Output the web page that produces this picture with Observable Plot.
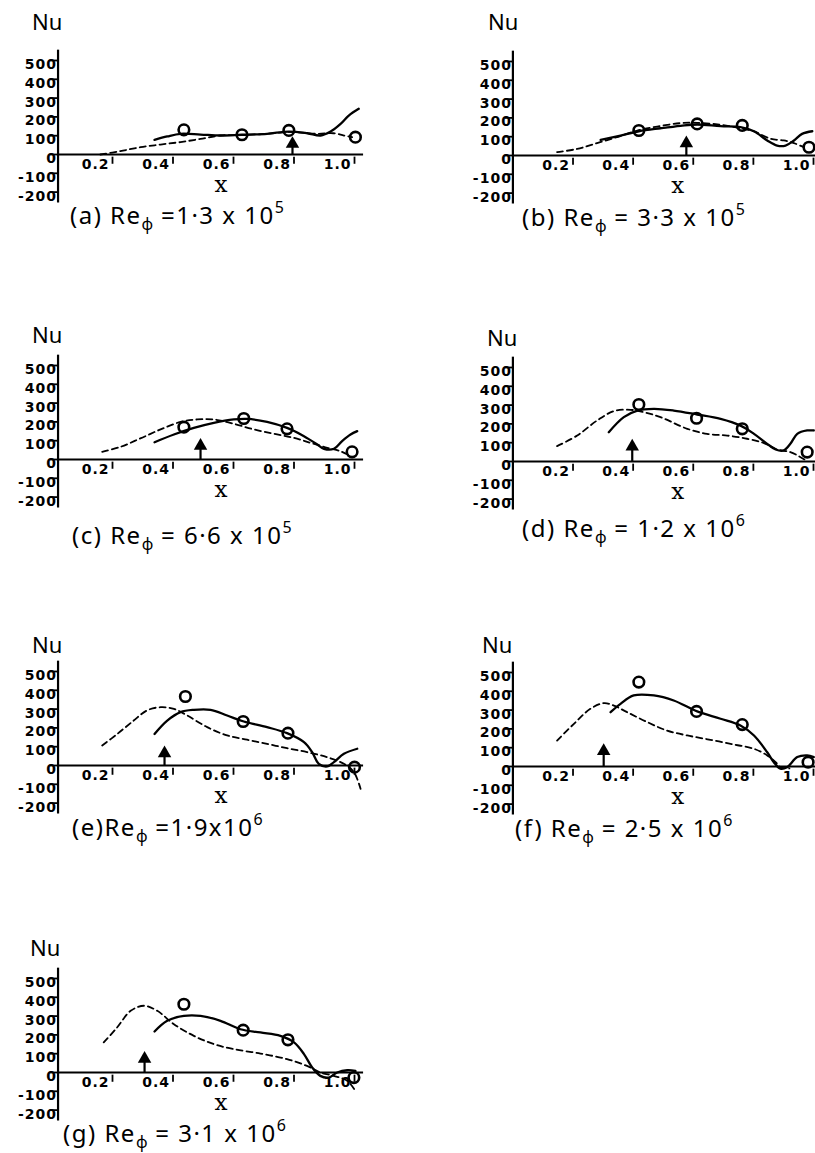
<!DOCTYPE html>
<html><head><meta charset="utf-8">
<script src="https://cdn.jsdelivr.net/npm/d3@7"></script>
<script src="https://cdn.jsdelivr.net/npm/@observablehq/plot@0.6"></script>
<style>
html,body{margin:0;padding:0;background:#fff;width:815px;height:1153px;overflow:hidden;}
#root{position:relative;width:815px;height:1153px;}
.nu,.cap{position:absolute;font-family:"Noto Sans",sans-serif;font-size:22px;line-height:22px;color:#000;white-space:nowrap;}
.cap{font-size:24px;line-height:20px;letter-spacing:1.5px;}
.cap sub{font-size:16px;vertical-align:-6px;line-height:0;letter-spacing:0}
.cap sup{font-size:16px;vertical-align:11px;line-height:0}
.panel{position:absolute}
.panel svg text{letter-spacing:1px}
</style></head><body><div id="root"></div><script>
// ---- data ----
const panelIds = ["a","b","c","d","e","f","g"];
const captionHtml = [
  "(a) Re<sub>ϕ</sub> =1·3 x 10<sup>5</sup>",
  "(b) Re<sub>ϕ</sub> = 3·3 x 10<sup>5</sup>",
  "(c) Re<sub>ϕ</sub> = 6·6 x 10<sup>5</sup>",
  "(d) Re<sub>ϕ</sub> = 1·2 x 10<sup>6</sup>",
  "(e)Re<sub>ϕ</sub> =1·9x10<sup>6</sup>",
  "(f) Re<sub>ϕ</sub> = 2·5 x 10<sup>6</sup>",
  "(g) Re<sub>ϕ</sub> = 3·1 x 10<sup>6</sup>"
];
const xTicks = [0.2, 0.4, 0.6, 0.8, 1.0];
const xTickLabels = ["0.2", "0.4", "0.6", "0.8", "1.0"];
const yTicks = [500, 400, 300, 200, 100, 0, -100, -200];
const yTickLabels = ["500", "400", "300", "200", "100", "0", "-100", "-200"];

const solidA = [[0.339,78],[0.381,96],[0.425,110],[0.491,106],[0.557,101],[0.628,105],[0.711,110],[0.783,122],[0.844,113],[0.888,101],[0.921,122],[0.954,163],[0.981,207],[1.014,243]];
const dashA  = [[0.16,0],[0.226,18],[0.293,39],[0.359,53],[0.425,66],[0.491,83],[0.557,101],[0.628,104],[0.711,110],[0.783,120],[0.877,110],[0.93,113],[0.965,101],[0.992,92]];
const circA  = [[0.436,131],[0.628,105],[0.783,128],[1.003,92]];

const solidB = [[0.292,83],[0.358,106],[0.419,129],[0.491,145],[0.558,158],[0.613,165],[0.691,156],[0.757,151],[0.802,129],[0.846,80],[0.879,53],[0.907,53],[0.935,80],[0.962,115],[0.996,129]];
const dashB  = [[0.147,18],[0.214,35],[0.28,66],[0.347,98],[0.414,133],[0.48,154],[0.558,172],[0.613,174],[0.691,163],[0.757,145],[0.802,128],[0.857,89],[0.901,80],[0.935,66],[0.968,44]];
const circB  = [[0.419,133],[0.613,168],[0.763,160],[0.985,44]];

const solidC = [[0.339,92],[0.403,133],[0.469,168],[0.535,195],[0.601,213],[0.645,216],[0.711,200],[0.777,168],[0.833,124],[0.877,80],[0.899,57],[0.932,57],[0.959,98],[0.987,133],[1.009,151]];
const dashC  = [[0.166,41],[0.226,67],[0.292,112],[0.359,160],[0.425,200],[0.48,213],[0.535,213],[0.601,190],[0.667,160],[0.733,137],[0.8,115],[0.854,89],[0.91,62],[0.954,44],[0.981,23]];
const circC  = [[0.436,172],[0.634,218],[0.777,163],[0.992,41]];

const solidD = [[0.319,156],[0.369,236],[0.414,271],[0.469,280],[0.535,271],[0.613,250],[0.691,227],[0.757,191],[0.802,147],[0.846,94],[0.874,64],[0.901,59],[0.923,94],[0.946,147],[0.979,165],[1.001,165]];
const dashD  = [[0.147,82],[0.214,138],[0.28,218],[0.336,268],[0.391,275],[0.436,262],[0.491,236],[0.58,174],[0.646,147],[0.713,138],[0.779,121],[0.835,98],[0.879,64],[0.923,50],[0.957,23],[0.979,2]];
const circD  = [[0.419,303],[0.611,230],[0.763,174],[0.979,50]];

const solidE = [[0.339,168],[0.381,239],[0.425,284],[0.469,296],[0.524,296],[0.579,266],[0.634,234],[0.711,204],[0.777,172],[0.833,124],[0.86,71],[0.882,9],[0.91,-5],[0.932,18],[0.965,62],[1.009,89]];
const dashE  = [[0.166,106],[0.216,168],[0.27,239],[0.314,293],[0.359,310],[0.403,301],[0.447,266],[0.513,204],[0.579,160],[0.645,137],[0.711,115],[0.777,92],[0.843,71],[0.91,44],[0.965,9],[0.998,-35],[1.02,-124]];
const circE  = [[0.441,367],[0.632,234],[0.78,172],[1.0,-9]];

const solidF = [[0.325,289],[0.358,333],[0.402,378],[0.469,378],[0.535,351],[0.613,293],[0.691,254],[0.757,218],[0.802,165],[0.846,76],[0.868,23],[0.89,-12],[0.912,-4],[0.946,50],[0.979,59],[1.001,50]];
const dashF  = [[0.147,138],[0.203,227],[0.258,307],[0.303,337],[0.336,324],[0.38,289],[0.447,236],[0.513,191],[0.58,165],[0.657,142],[0.735,117],[0.802,94],[0.846,59],[0.874,23],[0.89,-4],[0.92,-10]];
const circF  = [[0.419,449],[0.611,293],[0.763,223],[0.982,23]];

const solidG = [[0.339,218],[0.381,275],[0.436,301],[0.491,301],[0.557,275],[0.623,230],[0.689,213],[0.755,195],[0.8,160],[0.833,98],[0.86,27],[0.887,-18],[0.915,-27],[0.943,0],[0.976,12],[1.003,9]];
const dashG  = [[0.171,160],[0.215,239],[0.26,328],[0.304,355],[0.348,328],[0.403,257],[0.469,195],[0.535,151],[0.601,124],[0.689,101],[0.777,71],[0.843,35],[0.887,0],[0.932,-18],[0.976,-44],[1.003,-98]];
const circG  = [[0.436,363],[0.632,225],[0.78,174],[0.998,-27]];

const arrowX   = [0.795, 0.577, 0.491, 0.397, 0.372, 0.302, 0.306];
const arrowTop = [80, 89, 97, 103, 89, 106, 97];

const solids = [solidA, solidB, solidC, solidD, solidE, solidF, solidG];
const dashes = [dashA, dashB, dashC, dashD, dashE, dashF, dashG];
const circles = [circA, circB, circC, circD, circE, circF, circG];

// ---- layout (page pixels) ----
const col    = [0, 1, 0, 1, 0, 1, 0];
const zeroY  = [154, 155, 459, 461, 765, 766, 1072];
const nuPos  = [[32,29],[488,29],[32,342],[487,345],[32,652],[482,652],[30,955]];
const capPos = [[70,224],[522,226],[72,544],[522,537],[72,836],[515,837],[63,1142]];
const colLeft = [0, 420], colWidth = [410, 395];
const colX0 = [51.5, 92.4], colUnit = [302.5, 300.6];
const yAxisAt = [0.02, 0.0], xLabelAt = [0.56, 0.55];
const K = 0.188, ZL = 112, H = 172;

const root = document.getElementById("root");
const tickFont = {fontSize: 14, fontWeight: "bold", fontFamily: "DejaVu Sans"};

panelIds.forEach((id, i) => {
  const c = col[i], ax = yAxisAt[c], x0 = colX0[c], u = colUnit[c];
  const svg = Plot.plot({
    width: colWidth[c], height: H, margin: 0,
    x: {domain: [0, 1.1], range: [x0, x0 + 1.1 * u], axis: null},
    y: {domain: [-300, 590], range: [ZL + 300 * K, ZL - 590 * K], axis: null},
    style: {background: "transparent", overflow: "visible", color: "black"},
    marks: [
      Plot.ruleX([ax], {y1: -258, y2: 555, strokeWidth: 2.2}),
      Plot.ruleY([0], {x1: ax, x2: 1.03, strokeWidth: 2.2}),
      Plot.ruleY(yTicks, {y: d => d, x1: ax - 0.026, x2: ax, strokeWidth: 1.8}),
      Plot.text(yTicks, {x: ax, y: d => d, text: (d, j) => yTickLabels[j], textAnchor: "end", dx: -1, dy: 4, ...tickFont}),
      Plot.ruleX(xTicks, {x: d => d, y1: -14, y2: -52, strokeWidth: 1.8}),
      Plot.text(xTicks, {x: d => d, y: 0, text: (d, j) => xTickLabels[j], textAnchor: "end", dx: -3, dy: 10, ...tickFont}),
      Plot.text(["x"], {x: xLabelAt[c], y: 0, dy: 30, text: d => d, fontSize: 23, fontFamily: "DejaVu Serif"}),
      Plot.line(dashes[i], {x: d => d[0], y: d => d[1], curve: "catmull-rom", strokeWidth: 1.8, strokeDasharray: "6,4"}),
      Plot.line(solids[i], {x: d => d[0], y: d => d[1], curve: "catmull-rom", strokeWidth: 2.3}),
      Plot.dot(circles[i], {x: d => d[0], y: d => d[1], r: 5.3, stroke: "black", strokeWidth: 2.6, fill: "none"}),
      Plot.ruleX([arrowX[i]], {x: d => d, y1: 0, y2: arrowTop[i] - 20, strokeWidth: 2.2}),
      Plot.dot([arrowX[i]], {x: d => d, y: arrowTop[i] - 24, symbol: "triangle", r: 5, fill: "black", stroke: "none"})
    ]
  });
  const div = document.createElement("div");
  div.className = "panel";
  div.style.left = colLeft[c] + "px";
  div.style.top = (zeroY[i] - ZL) + "px";
  div.appendChild(svg);
  root.appendChild(div);

  const nu = document.createElement("div");
  nu.className = "nu";
  nu.textContent = "Nu";
  nu.style.left = nuPos[i][0] + "px";
  nu.style.top = (nuPos[i][1] - 19) + "px";
  root.appendChild(nu);

  const cap = document.createElement("div");
  cap.className = "cap";
  cap.innerHTML = captionHtml[i];
  cap.style.left = capPos[i][0] + "px";
  cap.style.top = (capPos[i][1] - 19) + "px";
  root.appendChild(cap);
});
</script></body></html>
